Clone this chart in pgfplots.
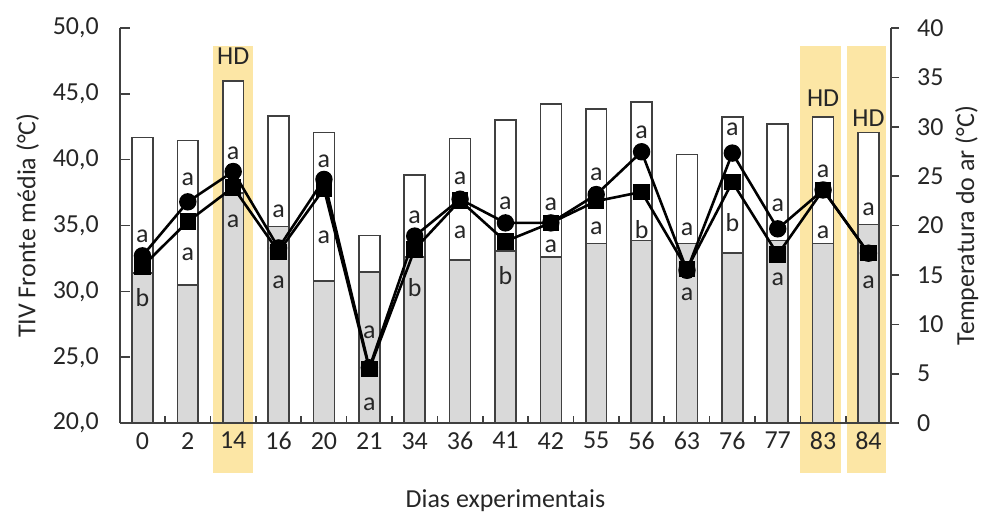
\documentclass[border=0pt]{standalone}
\usepackage{pgfplots}
\usepackage{pgfplotstable}
\pgfplotsset{compat=1.18}
\usepackage{fontspec}
\setmainfont{Carlito}
\definecolor{hd}{RGB}{252,230,165}
\definecolor{barg}{RGB}{217,217,217}
\definecolor{axc}{RGB}{64,64,64}
\definecolor{txt}{RGB}{38,38,38}

\pgfplotstableread{
x day tmax tmin circ sq
0 0 28.9 15.2 32.7 31.9
1 2 28.6 14.0 36.8 35.3
2 14 34.6 23.3 39.1 37.9
3 16 31.1 19.9 33.3 33.0
4 20 29.4 14.4 38.5 37.8
5 21 19.0 15.3 24.2 24.1
6 34 25.1 16.8 34.2 33.2
7 36 28.8 16.5 37.0 36.9
8 41 30.7 17.4 35.2 33.8
9 42 32.3 16.8 35.2 35.2
10 55 31.8 18.2 37.35 36.85
11 56 32.5 18.5 40.6 37.55
12 63 27.2 18.2 31.6 31.7
13 76 31.0 17.2 40.5 38.3
14 77 30.3 18.5 34.75 32.8
15 83 31.0 18.2 37.7 37.7
16 84 29.4 20.1 32.9 32.9
}\data

\pgfplotstableread{
x y l
0 34.2 a
0 29.5 b
1 38.5 a
1 32.8 a
2 40.5 a
2 35.3 a
3 36.1 a
3 30.7 a
4 39.9 a
4 34.1 a
5 26.9 a
5 21.4 a
6 35.6 a
6 30.3 b
7 38.6 a
7 34.5 a
8 36.7 a
8 31.2 b
9 36.6 a
9 33.4 a
10 38.9 a
10 34.8 a
11 42.1 a
11 34.7 b
12 34.75 a
12 29.8 a
13 42.3 a
13 35.2 b
14 36.5 a
14 30.9 a
15 39.1 a
15 34.5 a
16 36.2 a
16 30.7 a
}\letters

\pgfplotstableread{
x y l
2 37.1 HD
15 32.9 HD
16 30.9 HD
}\hdlab

\begin{document}
\fontsize{13}{15}\selectfont
\begin{tikzpicture}
\pgfplotsset{
  common/.style={
    scale only axis, width=386.5pt, height=198pt,
    xmin=-0.5, xmax=16.5,
    axis line style={axc, line width=0.8pt},
    every tick/.style={axc, line width=0.8pt},
    tick label style={font=\fontsize{13}{15}\selectfont, text=txt},
    label style={font=\fontsize{13}{15}\selectfont, text=txt},
    /pgf/number format/assume math mode=true,
  }
}
% bars (right axis)
\begin{axis}[common,
  ymin=0, ymax=40,
  axis x line=none,
  axis y line*=right,
  tick align=outside,
  major tick length=4pt,
  ytick={0,5,...,40},
  yticklabel style={xshift=4.5pt},
  ylabel={Temperatura do ar (°C)},
  ylabel shift=-3pt,
  clip=false,
]
\fill[hd] (axis cs:1.56,-5.0) rectangle (axis cs:2.43,38.2);
\fill[hd] (axis cs:14.50,-5.0) rectangle (axis cs:15.40,38.2);
\fill[hd] (axis cs:15.53,-5.0) rectangle (axis cs:16.39,38.2);
\addplot[ybar, bar width=10.5pt, bar shift=0pt, fill=white, draw=axc, line width=0.8pt] table[x=x, y=tmax] {\data};
\addplot[ybar, bar width=10.5pt, bar shift=0pt, fill=barg, draw=axc, line width=0.8pt] table[x=x, y=tmin] {\data};
\addplot[draw=none, mark=none, nodes near coords, point meta=explicit symbolic,
  nodes near coords style={anchor=center, text=txt, font=\fontsize{13}{15}\selectfont, inner sep=0pt}]
  table[x=x, y=y, meta=l] {\hdlab};
\end{axis}
% lines (left axis)
\begin{axis}[common,
  ymin=20, ymax=50,
  axis x line*=bottom,
  axis y line*=left,
  tick align=inside,
  major tick length=5pt,
  ytick={20,25,...,50},
  /pgf/number format/fixed,
  /pgf/number format/fixed zerofill,
  /pgf/number format/precision=1,
  /pgf/number format/use comma,
  yticklabel style={xshift=-6pt},
  xtick={0,...,16},
  xticklabels={0,2,14,16,20,21,34,36,41,42,55,56,63,76,77,83,84},
  major x tick style={draw=none},
  minor xtick={0.5,1.5,...,15.5},
  minor tick length=3.5pt,
  ylabel={TIV Fronte média (°C)},
  ylabel shift=-2pt,
  xlabel={Dias experimentais},
  xlabel style={yshift=-11pt},
  clip=false,
]
\addplot[black, line width=1.3pt, mark=square*, mark size=3.5pt, mark options={solid},
  error bars/.cd, y dir=both, y fixed=0.5, error bar style={black, line width=0.6pt},
  error mark options={rotate=90, mark size=2.5pt, line width=0.6pt}]
  table[x=x, y=sq] {\data};
\addplot[black, line width=1.3pt, mark=*, mark size=3.7pt, mark options={solid},
  error bars/.cd, y dir=both, y fixed=0.5, error bar style={black, line width=0.6pt},
  error mark options={rotate=90, mark size=2.5pt, line width=0.6pt}]
  table[x=x, y=circ] {\data};
\addplot[draw=none, mark=none, nodes near coords, point meta=explicit symbolic,
  nodes near coords style={anchor=center, text=txt, font=\fontsize{13}{15}\selectfont, inner sep=0pt}]
  table[x=x, y=y, meta=l] {\letters};
\coordinate (SW) at (rel axis cs:0,0);
\coordinate (NE) at (rel axis cs:1,1);
\end{axis}
\path (SW) ++(-60pt,-45.5pt) rectangle ([shift={(47pt,14pt)}]NE);
\end{tikzpicture}
\end{document}
